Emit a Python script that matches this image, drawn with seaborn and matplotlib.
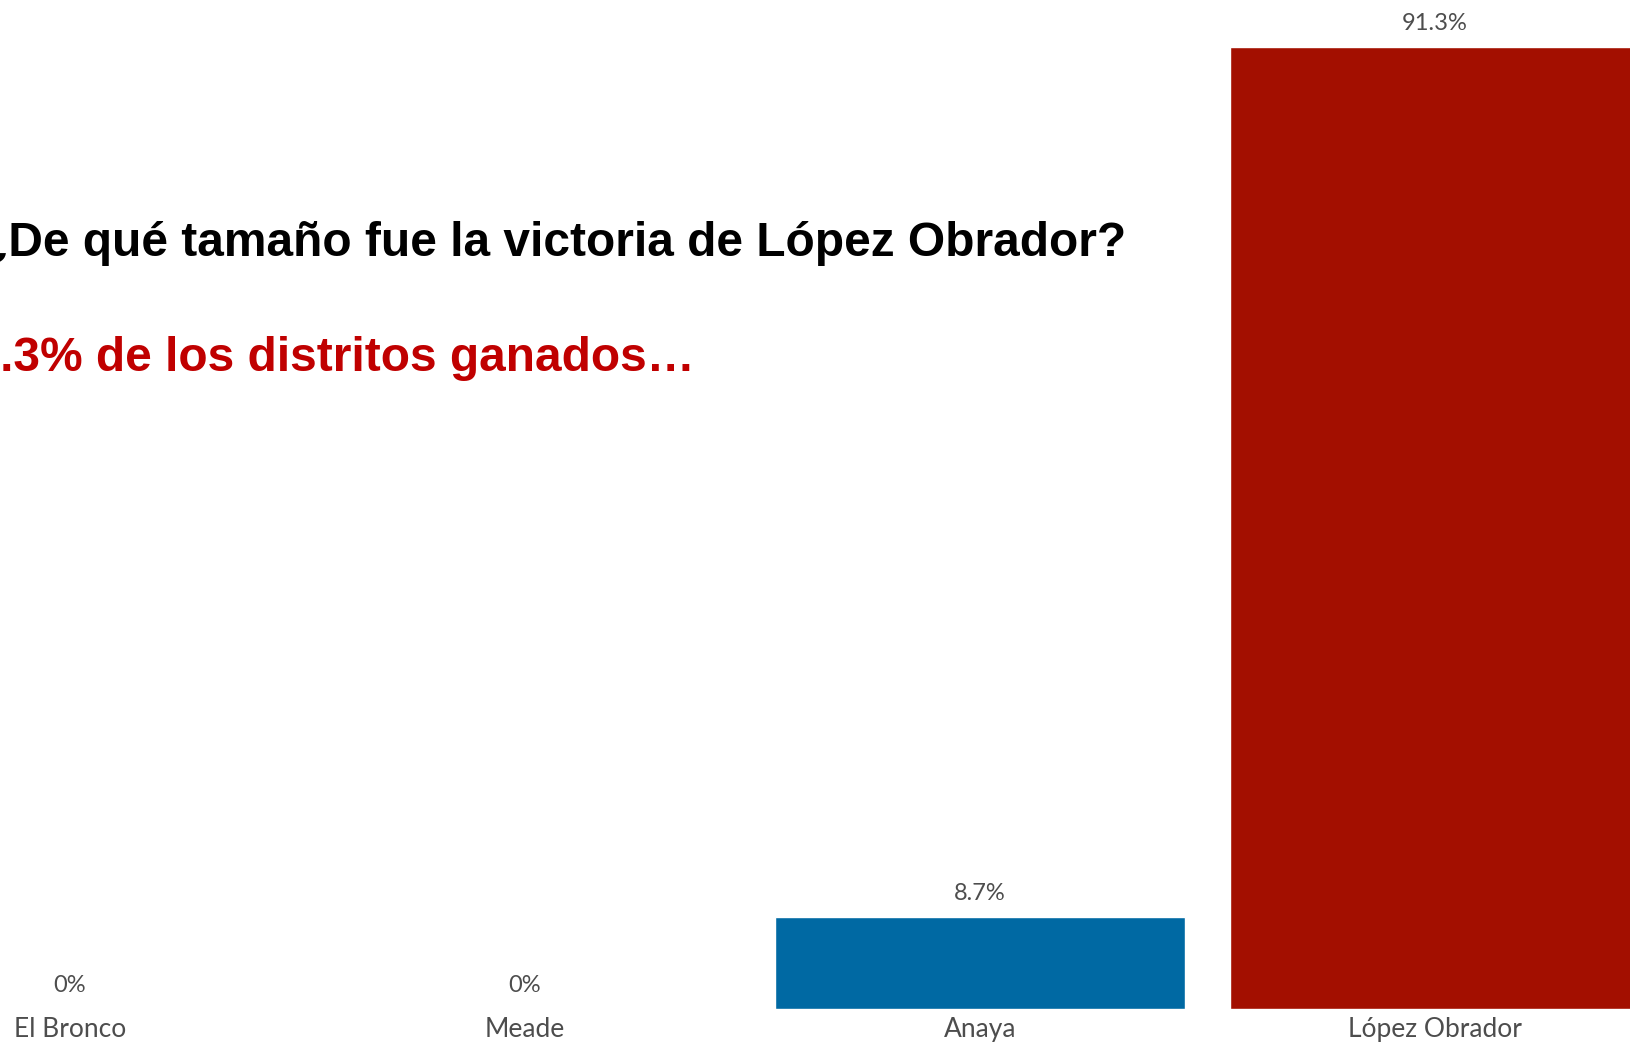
import matplotlib
matplotlib.use("Agg")
import matplotlib.pyplot as plt
import seaborn as sns
import pandas as pd

categories = ["El Bronco", "Meade", "Anaya", "López Obrador"]
values = [0.0, 0.0, 8.7, 91.3]
value_labels = ["0%", "0%", "8.7%", "91.3%"]
bar_colors = ["#8a8a8a", "#8a8a8a", "#0069A3", "#A30F00"]
title = "¿De qué tamaño fue la victoria de López Obrador?"
subtitle = "91.3% de los distritos ganados…"

df = pd.DataFrame({"candidato": categories, "pct": values})

sns.set_theme(style="white")
plt.rcParams["font.family"] = ["Lato", "DejaVu Sans"]

W, H = 1631, 1044
fig = plt.figure(figsize=(W / 100, H / 100), dpi=100)
fig.patch.set_facecolor("white")

base_px = 1008.5
ax = fig.add_axes([0, (H - base_px) / H, 1, base_px / H])
ax.set_facecolor("white")

sns.barplot(data=df, x="candidato", y="pct", hue="candidato",
            palette=dict(zip(categories, bar_colors)), width=0.9,
            legend=False, ax=ax, saturation=1)

ax.set_xlim(-70 / 455, (W - 70) / 455)
ax.set_ylim(0, base_px / ((base_px - 47) / 91.3))

for cont, lbl in zip(ax.containers, value_labels):
    ax.bar_label(cont, labels=[lbl], padding=9, fontsize=17, color="#4d4d4d")

ax.set_xlabel("")
ax.set_ylabel("")
ax.set_yticks([])
ax.tick_params(axis="x", length=0, pad=6, labelsize=19, labelcolor="#4d4d4d")
for s in ax.spines.values():
    s.set_visible(False)

fig.text(-21 / W, 1 - 256 / H, title, fontsize=34.5, fontweight="bold",
         color="black", family="Liberation Sans", ha="left", va="baseline")
fig.text(-53 / W, 1 - 371 / H, subtitle, fontsize=34.5, fontweight="bold",
         color="#C00000", family="Liberation Sans", ha="left", va="baseline")

fig.savefig("out.png", dpi=100, facecolor="white")
